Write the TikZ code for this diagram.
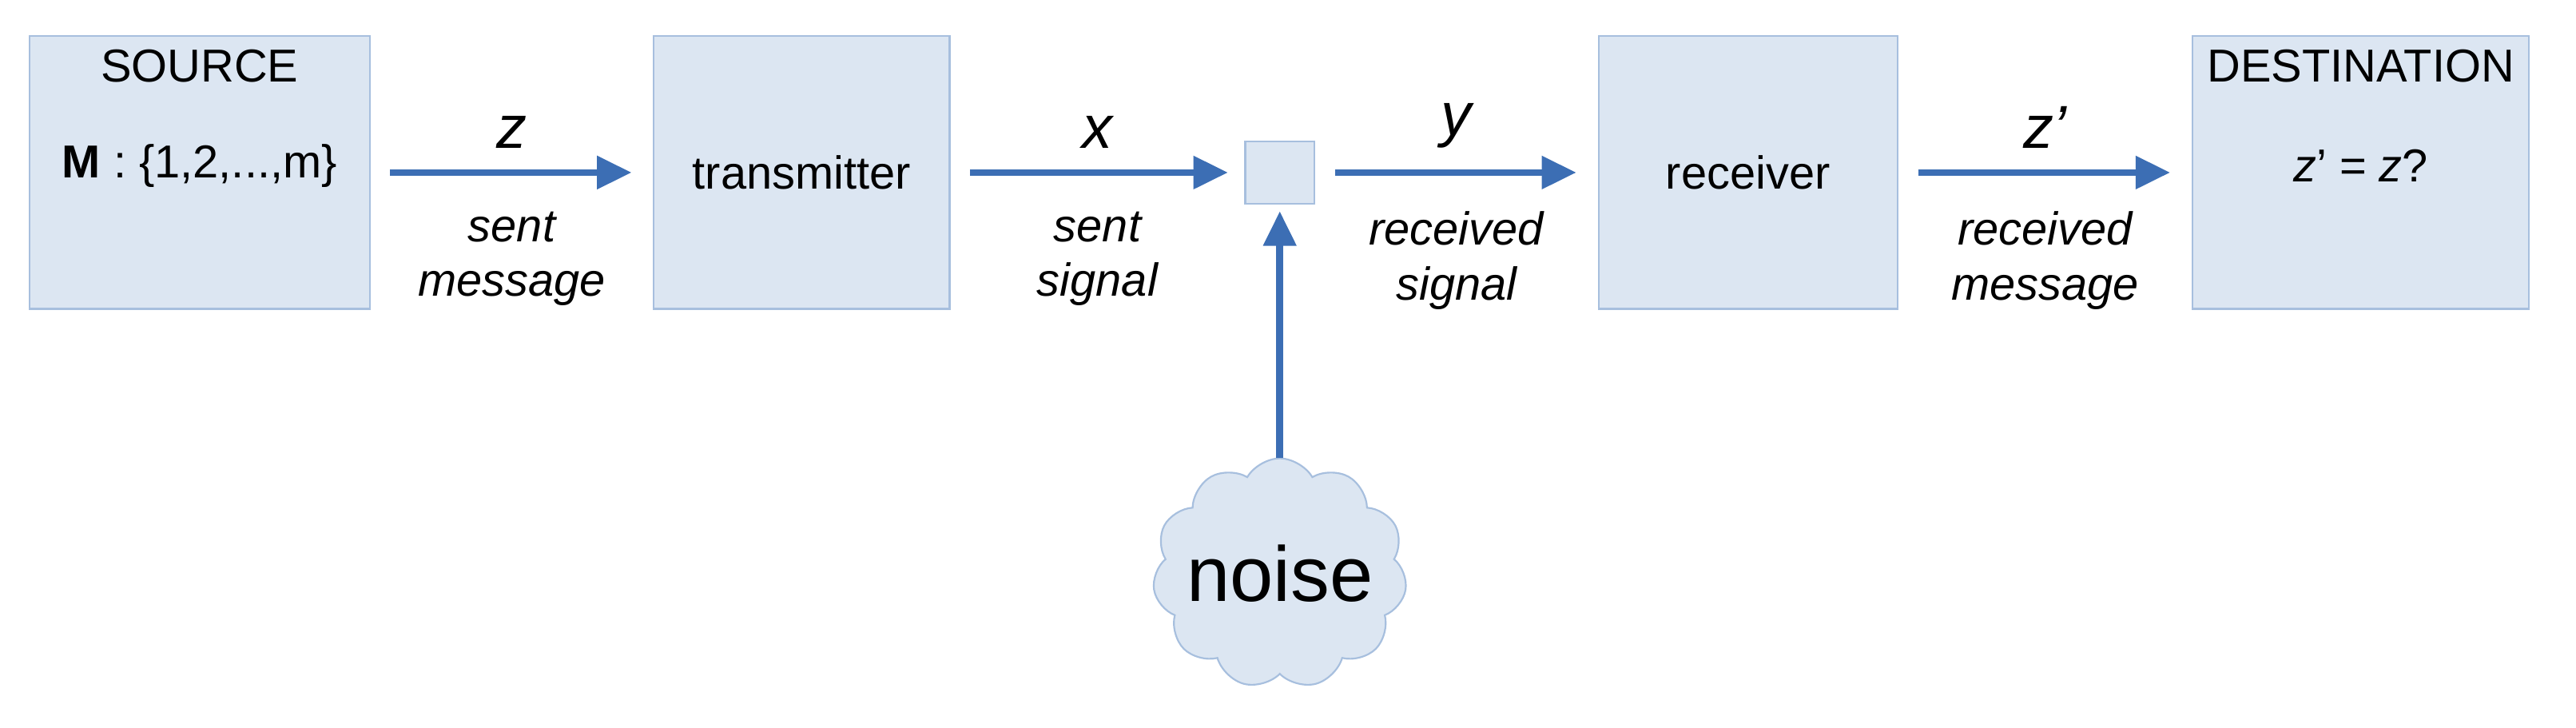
\documentclass[tikz,border=0pt]{standalone}
\usepackage{fontspec}
\setmainfont{Liberation Sans}
\usetikzlibrary{shapes.symbols, positioning, arrows.meta}
\definecolor{boxfill}{HTML}{DCE6F2}
\definecolor{boxdraw}{HTML}{A7BFDE}
\definecolor{arrowblue}{HTML}{3C6EB4}

\begin{document}
\begin{tikzpicture}[x=0.02cm, y=-0.02cm,
    block/.style={rectangle, minimum height=3.32cm, text centered, draw=boxdraw, fill=boxfill, line width=0.6pt, font=\fontsize{16}{19}\selectfont},
    sym/.style={font=\fontsize{21}{24}\selectfont\itshape},
    desc/.style={font=\fontsize{16}{19}\selectfont\itshape, align=center},
    arrow/.style={line width=2.4pt, draw=arrowblue, -{Triangle[length=12pt, width=11pt]}, shorten >=0.26cm, shorten <=0.24cm},
]
\useasboundingbox (0,0) rectangle (1568,443);

% Nodes
\node[block, minimum width=4.14cm] (source) at (121.5,105) {};
\node[anchor=north, font=\fontsize{16}{19}\selectfont] at (121.5,24) {SOURCE};
\node[font=\fontsize{16}{19}\selectfont] at (121.5,101) {\textbf{M} : \{1,2,...,m\}};
\node[block, minimum width=3.6cm] (trans) at (488,105) {transmitter};
\node[rectangle, minimum width=0.84cm, minimum height=0.76cm, draw=boxdraw, fill=boxfill, line width=0.6pt] (chan) at (779,105) {};
\node[block, minimum width=3.64cm] (recv) at (1064,105) {receiver};
\node[block, minimum width=4.1cm] (dest) at (1437,105) {};
\node[anchor=north, font=\fontsize{16}{19}\selectfont] at (1437,24) {DESTINATION};
\node[font=\fontsize{16}{19}\selectfont] at (1437,101) {\textit{z}’ = \textit{z}?};
\node[cloud, cloud puffs=11, cloud puff arc=120, aspect=1.15, inner sep=-4pt, minimum width=3cm, minimum height=2.64cm, draw=boxdraw, fill=boxfill, line width=0.6pt, font=\fontsize{27}{30}\selectfont] (noise) at (779,349) {noise};

% Connections
\draw[arrow] (source) -- node[above=4pt, sym] {z} node[below=9pt, desc] {sent\\message} (trans);
\draw[arrow, shorten >=0.2cm] (trans) -- node[above=4pt, sym] {x} node[below=9pt, desc] {sent\\signal} (chan);
\draw[arrow] (chan) -- node[above=4pt, sym] {y} node[below=9pt, desc] {received\\signal} (recv);
\draw[arrow] (recv) -- node[above=4pt, sym] {z’} node[below=9pt, desc] {received\\message} (dest);
\draw[arrow, shorten <=0pt, shorten >=0.08cm] (noise.north) -- (chan.south);

\end{tikzpicture}
\end{document}
